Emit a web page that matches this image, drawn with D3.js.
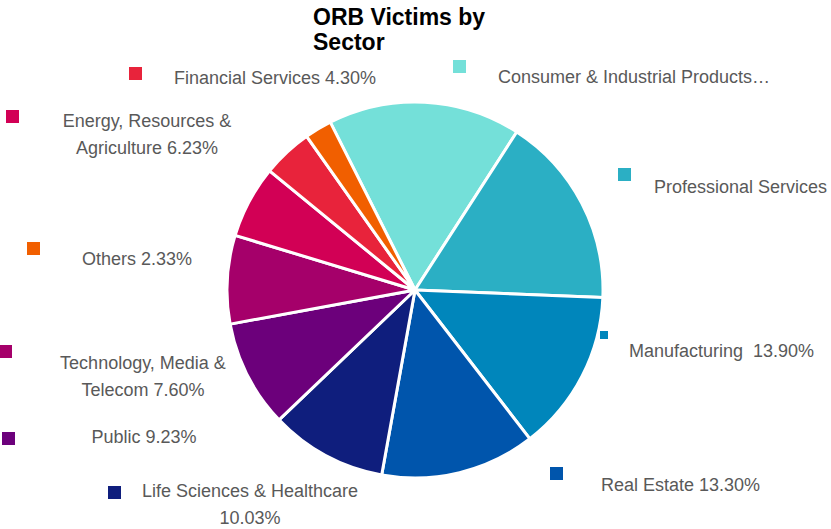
<!DOCTYPE html>
<html>
<head>
<meta charset="utf-8">
<script src="https://cdn.jsdelivr.net/npm/d3@7"></script>
<style>
  html, body { margin: 0; padding: 0; background: #fff; }
  svg { display: block; }
  text { font-family: "Liberation Sans", Arial, Helvetica, sans-serif; }
</style>
</head>
<body>
<svg id="chart" width="831" height="529"></svg>
<script>
// Sector shares of ORB victims (percent), in clockwise drawing order
const sectors = [
  "Consumer & Industrial Products",
  "Professional Services",
  "Manufacturing",
  "Real Estate",
  "Life Sciences & Healthcare",
  "Public",
  "Technology, Media & Telecom",
  "Energy, Resources & Agriculture",
  "Financial Services",
  "Others"
];
const shares = [16.55, 16.53, 13.90, 13.30, 10.03, 9.23, 7.60, 6.23, 4.30, 2.33];
const colours = [
  "#74e0d9", "#2bafc4", "#0086bb", "#0055ac", "#0f1e7d",
  "#6c007b", "#a5006a", "#d20055", "#e8233b", "#f15f00"
];
// Label text lines per sector (percent appended where shown)
const labelLines = [
  ["Consumer & Industrial Products\u2026"],
  ["Professional Services"],
  ["Manufacturing\u00a0 13.90%"],
  ["Real Estate 13.30%"],
  ["Life Sciences & Healthcare", "10.03%"],
  ["Public 9.23%"],
  ["Technology, Media &", "Telecom 7.60%"],
  ["Energy, Resources &", "Agriculture 6.23%"],
  ["Financial Services 4.30%"],
  ["Others 2.33%"]
];
const title = ["ORB Victims by", "Sector"];

// Layout of the label blocks: marker box and text anchor
const labelLayout = [
  { mx: 453, my: 60, mw: 13, mh: 13, tx: 498, ty: 83, anchor: "start" },
  { mx: 618, my: 168, mw: 13, mh: 13, tx: 654, ty: 193, anchor: "start" },
  { mx: 600, my: 331, mw: 8, mh: 8, tx: 629, ty: 357, anchor: "start" },
  { mx: 550, my: 467, mw: 13, mh: 13, tx: 601, ty: 491, anchor: "start" },
  { mx: 108, my: 486, mw: 13, mh: 13, tx: 250, ty: 497, anchor: "middle" },
  { mx: 2, my: 432, mw: 13, mh: 13, tx: 144, ty: 443, anchor: "middle" },
  { mx: 0, my: 345, mw: 12, mh: 13, tx: 143, ty: 369, anchor: "middle" },
  { mx: 6, my: 110, mw: 13, mh: 13, tx: 147, ty: 127, anchor: "middle" },
  { mx: 129, my: 67, mw: 13, mh: 13, tx: 174, ty: 84, anchor: "start" },
  { mx: 27, my: 242, mw: 13, mh: 13, tx: 82, ty: 265, anchor: "start" }
];

const svg = d3.select("#chart");
const cx = 415, cy = 290, radius = 188;
const startAngle = -26.8 * Math.PI / 180;

const pie = d3.pie()
  .sort(null)
  .value(d => d.value)
  .startAngle(startAngle)
  .endAngle(startAngle + 2 * Math.PI);

const arc = d3.arc().innerRadius(0).outerRadius(radius);

const data = sectors.map((s, i) => ({ name: s, value: shares[i], color: colours[i] }));

const g = svg.append("g").attr("transform", `translate(${cx},${cy})`);
g.selectAll("path")
  .data(pie(data))
  .join("path")
  .attr("d", arc)
  .attr("fill", d => d.data.color)
  .attr("stroke", "#ffffff")
  .attr("stroke-width", 3)
  .attr("stroke-linejoin", "round");

// Title
svg.append("text")
  .attr("x", 313)
  .attr("y", 25)
  .attr("font-size", 23)
  .attr("font-weight", "bold")
  .attr("fill", "#000")
  .selectAll("tspan")
  .data(title)
  .join("tspan")
  .attr("x", 313)
  .attr("dy", (d, i) => i === 0 ? 0 : 25)
  .text(d => d);

// Label blocks
const labels = svg.append("g");
data.forEach((d, i) => {
  const L = labelLayout[i];
  labels.append("rect")
    .attr("x", L.mx).attr("y", L.my)
    .attr("width", L.mw).attr("height", L.mh)
    .attr("fill", d.color);
  labels.append("text")
    .attr("x", L.tx)
    .attr("y", L.ty)
    .attr("font-size", 18)
    .attr("fill", "#595959")
    .attr("text-anchor", L.anchor)
    .selectAll("tspan")
    .data(labelLines[i])
    .join("tspan")
    .attr("x", L.tx)
    .attr("dy", (t, j) => j === 0 ? 0 : 26.5)
    .text(t => t);
});
</script>
</body>
</html>
